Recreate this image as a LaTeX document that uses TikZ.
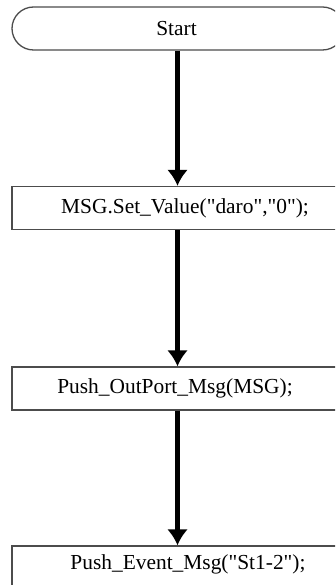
\documentclass[tikz,border=0pt]{standalone}
\usepackage{fontspec}
\setmainfont{Liberation Serif}
\usetikzlibrary{arrows.meta}
\newcommand{\dq}{\textquotedbl}
\begin{document}
\begin{tikzpicture}[x=1pt,y=-1pt,
  outline/.style={draw=black!70, line width=1.3pt},
  term/.style={outline, rounded corners=21.5pt, minimum width=332pt, minimum height=43pt, inner sep=0pt},
  stepbox/.style={outline, minimum width=332pt, minimum height=43pt, inner sep=0pt},
  lbl/.style={font=\fontsize{21.4}{24}\selectfont, inner sep=0pt},
  flow/.style={line width=4.5pt, -{Latex[width=21pt,length=16pt]}}
]
\useasboundingbox (0,0) rectangle (335,585);
\clip (0,0) rectangle (335,585);
% flowchart blocks
\node[term]    (start) at (178,28.5) {};
\node[stepbox] (b1)    at (178,208)  {};
\node[stepbox] (b2)    at (178,388.5){};
\node[stepbox] (b3)    at (178,567.5){};
% block texts
\node[lbl] (t0) at (176.5,28.5) {Start};
\node[lbl] (t1) at (185,208)    {MSG.Set\_Value(\dq daro\dq,\dq 0\dq);};
\node[lbl] (t2) at (175,388.5)  {Push\_OutPort\_Msg(MSG);};
\node[lbl] (t3) at (188,564)    {Push\_Event\_Msg(\dq St1-2\dq);};
% connectors
\draw[flow] (start.south -| 177.5,0) -- (b1.north -| 177.5,0);
\draw[flow] (b1.south -| 177.5,0) -- (b2.north -| 177.5,0);
\draw[flow] (b2.south -| 177.5,0) -- (b3.north -| 177.5,0);
\end{tikzpicture}
\end{document}
